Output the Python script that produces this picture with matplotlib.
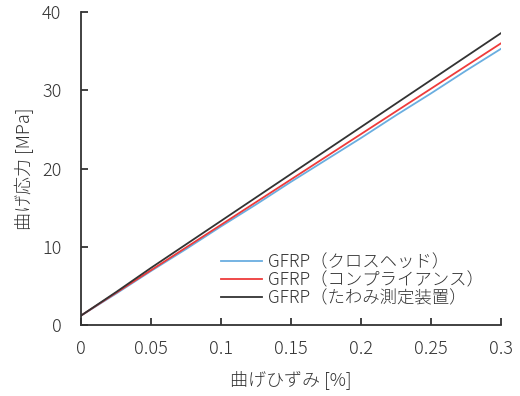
import matplotlib
matplotlib.use("Agg")
import matplotlib.pyplot as plt

plt.rcParams['font.family'] = ['Noto Sans CJK JP', 'DejaVu Sans']
plt.rcParams['font.weight'] = 'light'
plt.rcParams['axes.labelweight'] = 'light'

strain = [0, 0.025, 0.05, 0.075, 0.1, 0.125, 0.15, 0.175, 0.2, 0.225, 0.25, 0.275, 0.3]
stress_crosshead = [1.2, 4.0, 6.9, 9.7, 12.6, 15.4, 18.3, 21.1, 23.9, 26.8, 29.6, 32.5, 35.3]
stress_compliance = [1.2, 4.1, 7.0, 9.9, 12.8, 15.7, 18.6, 21.5, 24.4, 27.3, 30.2, 33.1, 36.0]
stress_deflect = [1.2, 4.2, 7.3, 10.3, 13.3, 16.3, 19.3, 22.3, 25.3, 28.3, 31.3, 34.3, 37.3]

labels = ["GFRP（クロスヘッド）", "GFRP（コンプライアンス）", "GFRP（たわみ測定装置）"]
colors = ["#6aaee0", "#ee3b3b", "#333333"]

fig = plt.figure(figsize=(5.2, 3.96), dpi=100)
ax = fig.add_axes([81 / 520, 1 - 325 / 396, 420 / 520, 313 / 396])

for ys, lab, c in zip([stress_crosshead, stress_compliance, stress_deflect], labels, colors):
    ax.plot(strain, ys, color=c, linewidth=1.3, label=lab)

ax.set_xlim(0, 0.3)
ax.set_ylim(0, 40)
ax.set_xticks([0, 0.05, 0.1, 0.15, 0.2, 0.25, 0.3])
ax.set_xticklabels(["0", "0.05", "0.1", "0.15", "0.2", "0.25", "0.3"])
ax.set_yticks([0, 10, 20, 30, 40])

for s in ["top", "right"]:
    ax.spines[s].set_visible(False)
for s in ["left", "bottom"]:
    ax.spines[s].set_color("#333333")
    ax.spines[s].set_linewidth(1.3)

ax.tick_params(direction="in", length=5, width=1.3, color="#333333",
               labelcolor="#333333", labelsize=13)
ax.tick_params(axis="x", pad=11)
ax.tick_params(axis="y", pad=14)

ax.set_xlabel("曲げひずみ [%]", fontsize=13, color="#333333", labelpad=9)
ax.set_ylabel("曲げ応力 [MPa]", fontsize=13, color="#333333", labelpad=6)

leg = ax.legend(loc="lower right", bbox_to_anchor=(0.975, 0.035), frameon=False,
                fontsize=12.5, handlelength=2.4, handletextpad=0.3, labelspacing=0.0,
                borderaxespad=0)
for t in leg.get_texts():
    t.set_color("#333333")

fig.savefig("out.png", dpi=100)
